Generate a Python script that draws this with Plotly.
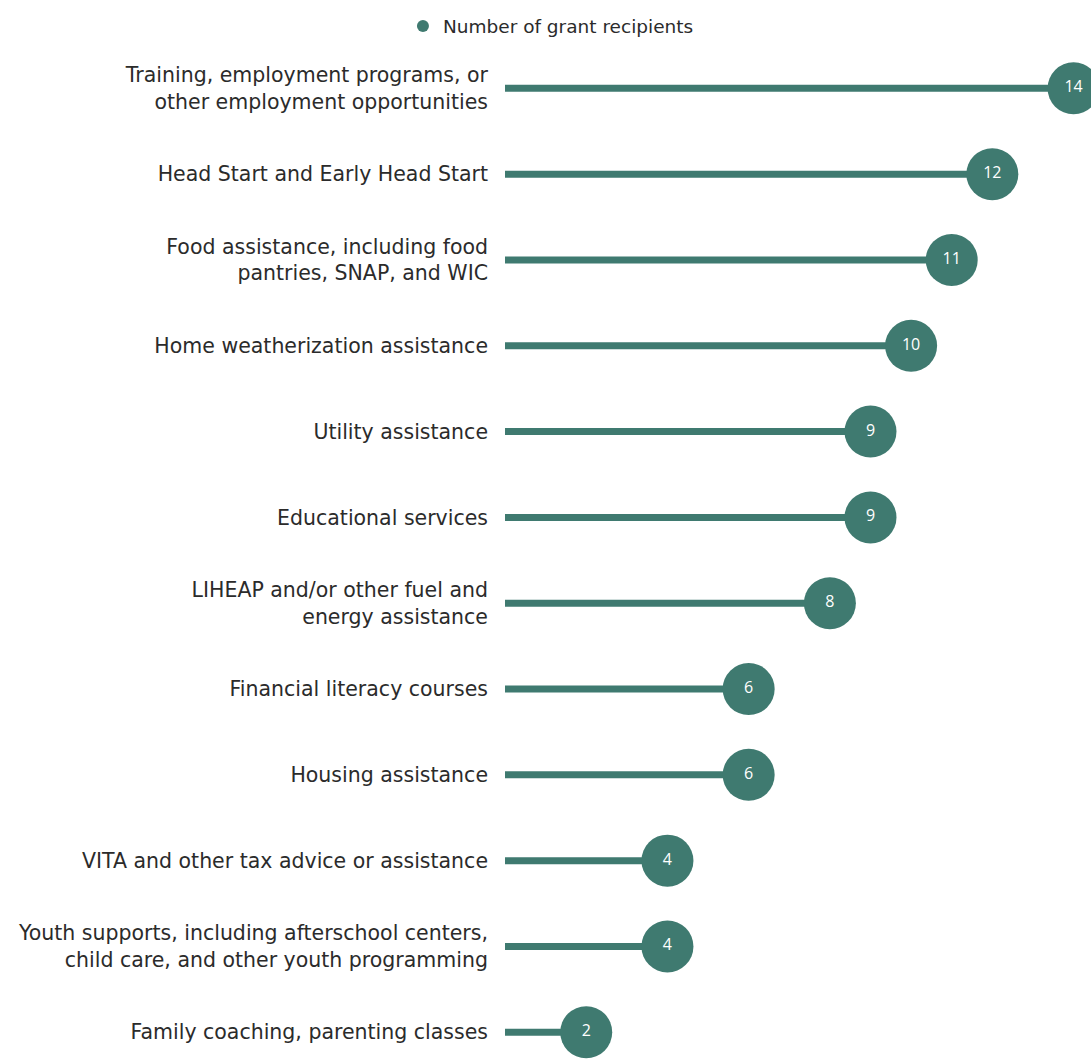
import plotly.graph_objects as go

categories = [
    "Training, employment programs, or<br>other employment opportunities",
    "Head Start and Early Head Start",
    "Food assistance, including food<br>pantries, SNAP, and WIC",
    "Home weatherization assistance",
    "Utility assistance",
    "Educational services",
    "LIHEAP and/or other fuel and<br>energy assistance",
    "Financial literacy courses",
    "Housing assistance",
    "VITA and other tax advice or assistance",
    "Youth supports, including afterschool centers,<br>child care, and other youth programming",
    "Family coaching, parenting classes",
]
values = [14, 12, 11, 10, 9, 9, 8, 6, 6, 4, 4, 2]
series_name = "Number of grant recipients"

COLOR = "#3F7A70"
FONT = "DejaVu Sans"

line_x, line_y = [], []
for c, v in zip(categories, values):
    line_x += [0, v, None]
    line_y += [c, c, None]

fig = go.Figure()
fig.add_trace(go.Scatter(
    x=line_x, y=line_y, mode="lines",
    line=dict(color=COLOR, width=7),
    showlegend=False, hoverinfo="skip", cliponaxis=False,
))
fig.add_trace(go.Scatter(
    x=values, y=categories, mode="markers+text",
    name=series_name,
    marker=dict(color=COLOR, size=52, line=dict(width=0)),
    text=[str(v) for v in values],
    textposition="middle center",
    textfont=dict(color="white", size=16, family="Open Sans"),
    cliponaxis=False,
))

fig.update_layout(
    width=1091, height=1064,
    margin=dict(l=505, r=0, t=43, b=0),
    plot_bgcolor="white", paper_bgcolor="white",
    font=dict(family=FONT, size=20.5, color="#2b2b2b"),
    showlegend=True,
    legend=dict(
        orientation="h", x=0.505, xanchor="center", xref="container",
        y=0.993, yanchor="top", yref="container",
        font=dict(size=18.5, color="#2b2b2b"),
        itemsizing="constant",
    ),
    xaxis=dict(range=[0, 14.43], visible=False, fixedrange=True),
    yaxis=dict(
        type="category", categoryorder="array", categoryarray=categories,
        range=[11.37, -0.5],
        showgrid=False, zeroline=False, showline=False,
        ticks="", ticklabelstandoff=16,
    ),
)

fig.write_html("out.html")
